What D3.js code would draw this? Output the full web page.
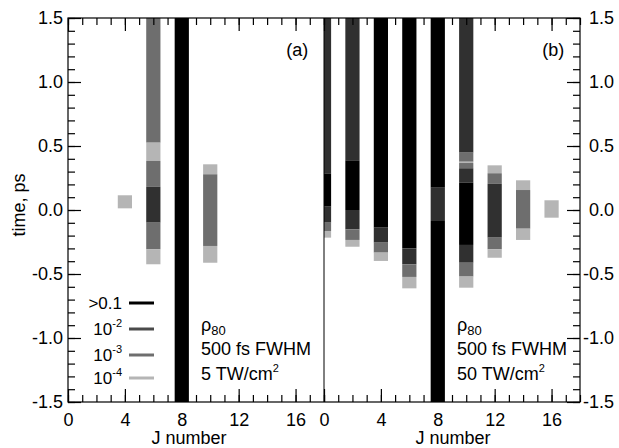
<!DOCTYPE html>
<html>
<head>
<meta charset="utf-8">
<script src="https://cdn.jsdelivr.net/npm/d3@7/dist/d3.min.js"></script>
<style>
  html, body { margin: 0; padding: 0; background: #fff; }
  svg { display: block; }
  text { font-family: "Liberation Sans", Arial, Helvetica, sans-serif; fill: #000; }
</style>
</head>
<body>
<svg id="chart" width="619" height="448"></svg>
<script>
// Population levels (legend order) and their grey shades
const levelLabels = [">0.1", "10^-2", "10^-3", "10^-4"];
const levelColors = ["#000000", "#303030", "#6e6e6e", "#b5b5b5"];

// Panel (a): 5 TW/cm^2 — J values, time edges of each band (ps, top to bottom), band levels
const aJ = [4, 6, 8, 10];
const aEdges = [
  [0.115, 0.013],
  [1.5, 0.526, 0.383, 0.182, -0.099, -0.307, -0.424],
  [1.5, -1.5],
  [0.357, 0.279, -0.281, -0.412]
];
const aLevels = [
  [3],
  [2, 3, 2, 1, 2, 3],
  [0],
  [3, 2, 3]
];

// Panel (b): 50 TW/cm^2
const bJ = [0, 2, 4, 6, 8, 10, 12, 14, 16];
const bEdges = [
  [1.5, 0.286, 0.026, -0.099, -0.164, -0.216],
  [1.5, 0.388, 0.0, -0.151, -0.234, -0.287],
  [1.5, -0.138, -0.255, -0.333, -0.398],
  [1.5, -0.30, -0.424, -0.523, -0.612],
  [1.5, 0.174, -0.086, -1.5],
  [1.5, 0.448, 0.377, 0.367, 0.326, 0.213, -0.273, -0.412, -0.52, -0.607],
  [0.349, 0.287, 0.205, -0.216, -0.307, -0.373],
  [0.232, 0.156, -0.146, -0.234],
  [0.076, -0.06]
];
const bLevels = [
  [1, 0, 1, 2, 3],
  [1, 0, 1, 2, 3],
  [0, 1, 2, 3],
  [0, 1, 2, 3],
  [0, 1, 0],
  [1, 2, 3, 2, 1, 0, 1, 2, 3],
  [3, 2, 1, 2, 3],
  [3, 2, 3],
  [3]
];

// Axis ticks
const xMajor = [0, 4, 8, 12, 16];
const xMinor = d3.range(0, 19, 1);
const yMajor = [-1.5, -1.0, -0.5, 0.0, 0.5, 1.0, 1.5];
const yMinor = d3.range(-15, 16).map(d => d / 10);

const annotA = { tag: "(a)", line2: "500 fs FWHM", power: "5 TW/cm" };
const annotB = { tag: "(b)", line2: "500 fs FWHM", power: "50 TW/cm" };

const svg = d3.select("#chart");
const plotTop = 18, plotBottom = 402;
const y = d3.scaleLinear().domain([-1.5, 1.5]).range([plotBottom, plotTop]);
const xa = d3.scaleLinear().domain([0, 18]).range([68, 324]);
const xb = d3.scaleLinear().domain([0, 18]).range([324, 580]);
// plain hyphen for negative values
const fmtY = d => d3.format(".1f")(d).replace("\u2212", "-");
const FONT = "Liberation Sans, Arial, sans-serif";

function styleAxis(g) {
  g.selectAll(".domain").remove();
  g.selectAll("line").attr("stroke", "#000").attr("stroke-width", 1.2);
  g.selectAll("text").attr("font-size", 18).attr("fill", "#000").attr("font-family", FONT);
}

function panel(id, x, js, edges, levels) {
  const [x0, x1] = x.range();
  svg.append("clipPath").attr("id", id)
    .append("rect").attr("x", x0).attr("y", plotTop).attr("width", x1 - x0).attr("height", plotBottom - plotTop);

  const bands = [];
  js.forEach((j, i) => {
    levels[i].forEach((lv, k) => {
      bands.push({ j, t0: edges[i][k], t1: edges[i][k + 1], lv });
    });
  });

  svg.append("g").attr("clip-path", `url(#${id})`)
    .selectAll("rect").data(bands).join("rect")
    .attr("x", d => x(d.j - 0.5))
    .attr("width", d => x(d.j + 0.5) - x(d.j - 0.5))
    .attr("y", d => y(d.t0))
    .attr("height", d => y(d.t1) - y(d.t0))
    .attr("fill", d => levelColors[d.lv]);

  // bottom and top axes: minor + major ticks pointing inward
  const gb = svg.append("g").attr("transform", `translate(0,${plotBottom})`);
  gb.append("g").call(d3.axisBottom(x).tickValues(xMinor).tickSize(-7).tickFormat(""));
  gb.append("g").call(d3.axisBottom(x).tickValues(xMajor).tickSize(-13).tickPadding(11).tickFormat(d3.format("d")));
  const gt = svg.append("g").attr("transform", `translate(0,${plotTop})`);
  gt.append("g").call(d3.axisTop(x).tickValues(xMinor).tickSize(-7).tickFormat(""));
  gt.append("g").call(d3.axisTop(x).tickValues(xMajor).tickSize(-13).tickFormat(""));
  styleAxis(gb);
  styleAxis(gt);
}

panel("clipA", xa, aJ, aEdges, aLevels);
panel("clipB", xb, bJ, bEdges, bLevels);

// y axes: left of panel (a), right of panel (b)
function yAxis(axisFn, xpos) {
  const g = svg.append("g").attr("transform", `translate(${xpos},0)`);
  g.append("g").call(axisFn(y).tickValues(yMinor).tickSize(-7).tickFormat(""));
  const gm = g.append("g").call(axisFn(y).tickValues(yMajor).tickSize(-13).tickPadding(5).tickFormat(fmtY));
  styleAxis(g);
  return gm;
}
yAxis(d3.axisLeft, 68);
// right-hand labels are right-aligned near the window edge
yAxis(d3.axisRight, 580).selectAll("text").attr("text-anchor", "end").attr("x", 34);

// frames
svg.append("rect").attr("x", 68).attr("y", plotTop).attr("width", 512).attr("height", plotBottom - plotTop)
  .attr("fill", "none").attr("stroke", "#000").attr("stroke-width", 1.2);
svg.append("line").attr("x1", 324).attr("x2", 324).attr("y1", plotTop).attr("y2", plotBottom)
  .attr("stroke", "#000").attr("stroke-width", 1);

// axis titles
svg.append("text").attr("transform", "translate(25,205) rotate(-90)")
  .attr("text-anchor", "middle").attr("font-size", 18).text("time, ps");
svg.append("text").attr("x", 189).attr("y", 444).attr("text-anchor", "middle")
  .attr("font-size", 18).text("J number");
svg.append("text").attr("x", 453).attr("y", 444).attr("text-anchor", "middle")
  .attr("font-size", 18).text("J number");

// panel tags and condition notes
function notes(x, a) {
  svg.append("text").attr("x", x(16.9)).attr("y", 56).attr("text-anchor", "end")
    .attr("font-size", 18).text(a.tag);
  const t1 = svg.append("text").attr("x", x(9.35)).attr("y", 331).attr("font-size", 18);
  t1.append("tspan").text("ρ");
  t1.append("tspan").attr("font-size", 13).attr("dy", 4).text("80");
  svg.append("text").attr("x", x(9.35)).attr("y", 355).attr("font-size", 18).text(a.line2);
  const t3 = svg.append("text").attr("x", x(9.35)).attr("y", 380).attr("font-size", 18);
  t3.append("tspan").text(a.power);
  t3.append("tspan").attr("font-size", 11).attr("dy", -8).text("2");
}
notes(xa, annotA);
notes(xb, annotB);

// legend
const legY = [303, 329, 355, 378];
levelLabels.forEach((lab, i) => {
  svg.append("line").attr("x1", 129).attr("x2", 154).attr("y1", legY[i]).attr("y2", legY[i])
    .attr("stroke", i === 1 ? "#4a4a4a" : levelColors[i])
    .attr("stroke-width", 3);
  const t = svg.append("text").attr("x", 122).attr("y", legY[i] + 6)
    .attr("text-anchor", "end").attr("font-size", 17);
  if (lab.startsWith("10^")) {
    t.append("tspan").text("10");
    t.append("tspan").attr("font-size", 11).attr("dy", -8).text(lab.slice(3));
  } else {
    t.text(lab);
  }
});
</script>
</body>
</html>
